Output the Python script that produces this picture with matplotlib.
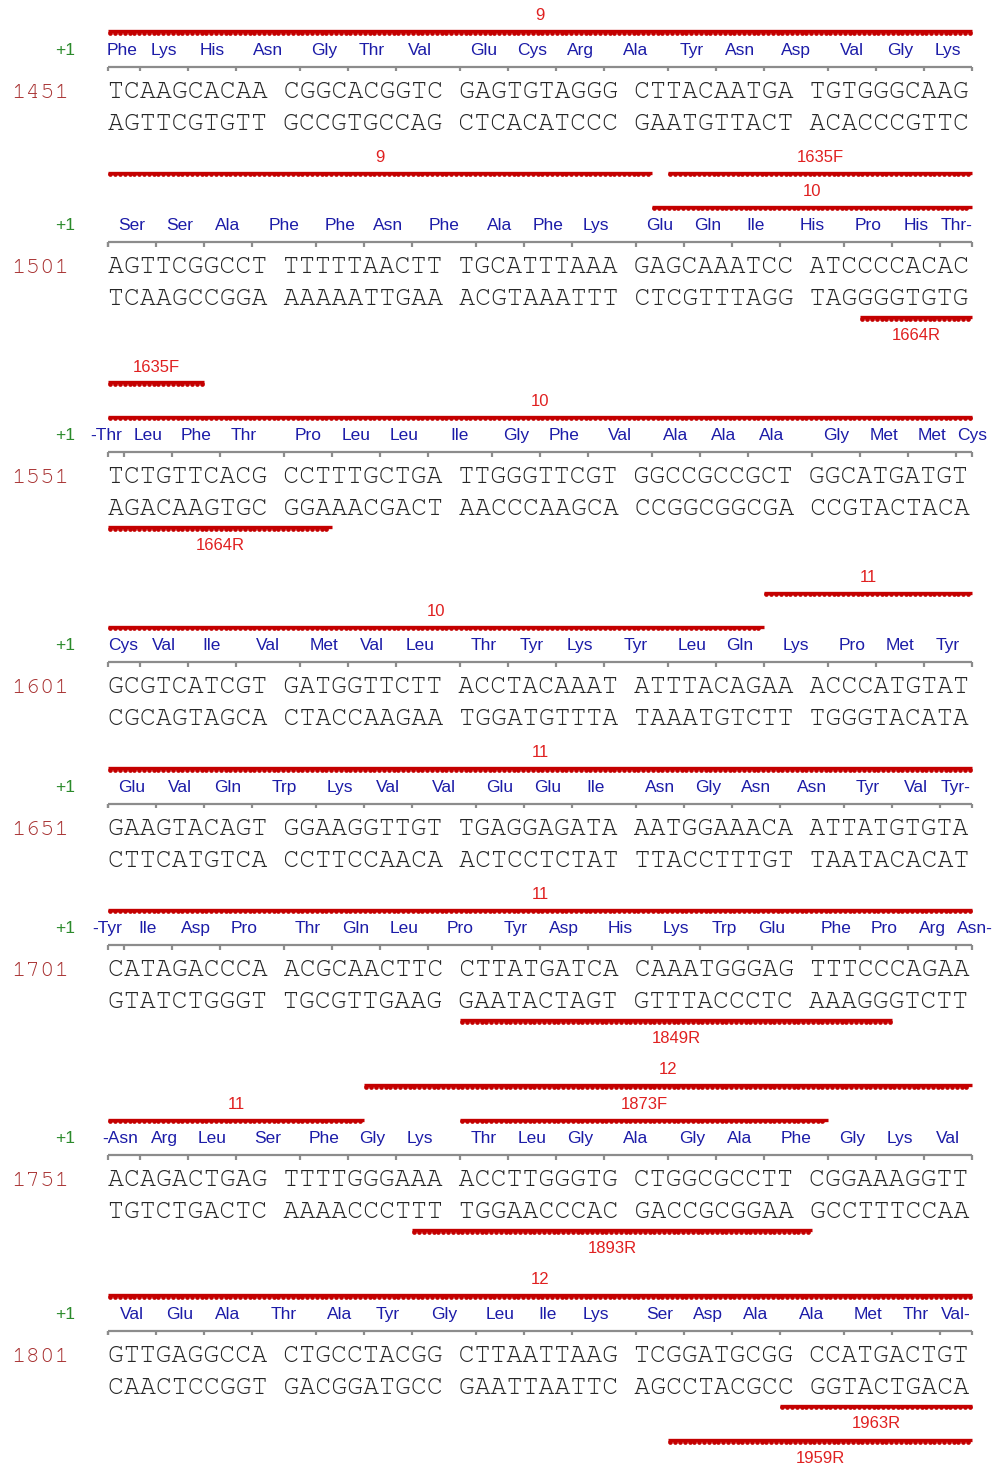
import matplotlib
matplotlib.use("Agg")
import matplotlib.pyplot as plt
from matplotlib import font_manager

# ---- sequence data (as printed) ----
row_starts = [1451, 1501, 1551, 1601, 1651, 1701, 1751, 1801]
top_strand = [
    "TCAAGCACAACGGCACGGTCGAGTGTAGGGCTTACAATGATGTGGGCAAG",
    "AGTTCGGCCTTTTTTAACTTTGCATTTAAAGAGCAAATCCATCCCCACAC",
    "TCTGTTCACGCCTTTGCTGATTGGGTTCGTGGCCGCCGCTGGCATGATGT",
    "GCGTCATCGTGATGGTTCTTACCTACAAATATTTACAGAAACCCATGTAT",
    "GAAGTACAGTGGAAGGTTGTTGAGGAGATAAATGGAAACAATTATGTGTA",
    "CATAGACCCAACGCAACTTCCTTATGATCACAAATGGGAGTTTCCCAGAA",
    "ACAGACTGAGTTTTGGGAAAACCTTGGGTGCTGGCGCCTTCGGAAAGGTT",
    "GTTGAGGCCACTGCCTACGGCTTAATTAAGTCGGATGCGGCCATGACTGT",
]
bottom_strand = [
    "AGTTCGTGTTGCCGTGCCAGCTCACATCCCGAATGTTACTACACCCGTTC",
    "TCAAGCCGGAAAAAATTGAAACGTAAATTTCTCGTTTAGGTAGGGGTGTG",
    "AGACAAGTGCGGAAACGACTAACCCAAGCACCGGCGGCGACCGTACTACA",
    "CGCAGTAGCACTACCAAGAATGGATGTTTATAAATGTCTTTGGGTACATA",
    "CTTCATGTCACCTTCCAACAACTCCTCTATTTACCTTTGTTAATACACAT",
    "GTATCTGGGTTGCGTTGAAGGAATACTAGTGTTTACCCTCAAAGGGTCTT",
    "TGTCTGACTCAAAACCCTTTTGGAACCCACGACCGCGGAAGCCTTTCCAA",
    "CAACTCCGGTGACGGATGCCGAATTAATTCAGCCTACGCCGGTACTGACA",
]
frame_start = 1450  # first base of a codon in reading frame +1
aa_rows = [
    "Phe Lys His Asn Gly Thr Val Glu Cys Arg Ala Tyr Asn Asp Val Gly Lys",
    "Ser Ser Ala Phe Phe Asn Phe Ala Phe Lys Glu Gln Ile His Pro His Thr-",
    "-Thr Leu Phe Thr Pro Leu Leu Ile Gly Phe Val Ala Ala Ala Gly Met Met Cys",
    "Cys Val Ile Val Met Val Leu Thr Tyr Lys Tyr Leu Gln Lys Pro Met Tyr",
    "Glu Val Gln Trp Lys Val Val Glu Glu Ile Asn Gly Asn Asn Tyr Val Tyr-",
    "-Tyr Ile Asp Pro Thr Gln Leu Pro Tyr Asp His Lys Trp Glu Phe Pro Arg Asn-",
    "-Asn Arg Leu Ser Phe Gly Lys Thr Leu Gly Ala Gly Ala Phe Gly Lys Val",
    "Val Glu Ala Thr Ala Tyr Gly Leu Ile Lys Ser Asp Ala Ala Met Thr Val-",
]

# ---- features: exons (9-12) and primers ----
feat_names = ["9", "10", "11", "12", "1635F", "1664R", "1849R", "1873F", "1893R", "1959R", "1963R"]
feat_start = [1451, 1532, 1639, 1766, 1533, 1544, 1721, 1771, 1769, 1833, 1840]
feat_end = [1531, 1638, 1765, 1850, 1556, 1563, 1745, 1791, 1790, 1850, 1850]
feat_side = ["top", "top", "top", "top", "top", "bottom", "bottom", "top", "bottom", "bottom", "bottom"]
# order in which features get a track (first = nearest the sequence)
track_order = ["10", "11", "1873F", "12", "9", "1635F", "1664R", "1849R", "1893R", "1963R", "1959R"]

# ---- look ----
X0 = 108
CW = 16
ROW_LEN = 50
LANE = 34.3
C_SEQ = "#262626"
C_AA = "#1c1ca8"
C_NUM = "#a83232"
C_FRAME = "#2b8a2b"
C_FEAT = "#c40000"
C_LAB = "#e02020"
C_RULER = "#8c8c8c"

names = {f.name for f in font_manager.fontManager.ttflist}


def pick(cands):
    for c in cands:
        if c in names:
            return c
    return "DejaVu Sans"


NARROW = pick(["Liberation Sans Narrow", "Arial Narrow", "Nimbus Sans Narrow", "Liberation Sans"])
MONO = pick(["Courier New", "Nimbus Mono PS", "FreeMono", "Liberation Mono"])


def col_left(i):
    # i = base index within row (0..49)
    return X0 + (i + i // 10) * CW


def col_right(i):
    return col_left(i) + CW


def wavy(ax, xa, xb, y):
    ax.plot([xa, xb], [y, y], color=C_FEAT, lw=2.4, solid_capstyle="butt", zorder=3)
    n = int((xb - xa) / 4.8)
    xs = [xa + 2.4 + 4.8 * k for k in range(n)]
    ax.plot(xs, [y + 1.6] * len(xs), "o", color=C_FEAT, ms=3.4, mew=0, zorder=3)


# segments of each feature per row, with track assignment
row_segments = []
lane_counts = []
for r, rs in enumerate(row_starts):
    re_ = rs + ROW_LEN - 1
    segs = []
    for name in track_order:
        k = feat_names.index(name)
        a, b = max(feat_start[k], rs), min(feat_end[k], re_)
        if a > b:
            continue
        ia, ib = a - rs, b - rs
        side = feat_side[k]
        lane = 0
        while True:
            clash = False
            for s in segs:
                if s[4] == side and s[5] == lane and ia <= s[2] + 1 and s[1] <= ib + 1:
                    clash = True
            if not clash:
                break
            lane += 1
        segs.append((name, ia, ib, k, side, lane))
    row_segments.append(segs)
    top_n = max([s[5] + 1 for s in segs if s[4] == "top"], default=0)
    bot_n = max([s[5] + 1 for s in segs if s[4] == "bottom"], default=0)
    lane_counts.append((top_n, bot_n))

fig = plt.figure(figsize=(9.92, 14.65), dpi=100)
ax = fig.add_axes([0, 0, 1, 1])
ax.set_xlim(0, 992)
ax.set_ylim(1465, 0)
ax.axis("off")

base = 20.3 + LANE * lane_counts[0][0]
for r, rs in enumerate(row_starts):
    if r > 0:
        base += 107.1 + LANE * (lane_counts[r - 1][1] + lane_counts[r][0])
    re_ = rs + ROW_LEN - 1

    # frame label and amino acids
    ax.text(75, base, "+1", color=C_FRAME, fontsize=12.5, family=NARROW, ha="right", va="baseline")
    offset = (rs - frame_start) % 3
    codons = list(range(rs - offset, re_ + 1, 3))
    labels = aa_rows[r].split()
    for c, lab in zip(codons, labels):
        ia, ib = max(c, rs) - rs, min(c + 2, re_) - rs
        if c < rs:
            xc, ha = col_right(ib) - 2, "right"
        elif c + 2 > re_:
            xc, ha = col_left(ia) + 1, "left"
        else:
            xc, ha = (col_left(ia) + col_right(ib)) / 2, "center"
        ax.text(xc, base, lab, color=C_AA, fontsize=12.5, family=NARROW, ha=ha, va="baseline")

    # ruler with codon ticks
    yr = base + 12
    xr1 = col_right(ROW_LEN - 1)
    ax.plot([X0, xr1], [yr, yr], color=C_RULER, lw=1.6, solid_capstyle="butt", zorder=2)
    ticks = [X0, xr1] + [col_left(c - rs) for c in codons if c >= rs]
    for xt in ticks:
        ax.plot([xt, xt], [yr, yr + 4.5], color=C_RULER, lw=1.6, solid_capstyle="butt", zorder=2)

    # strands
    top = " ".join(top_strand[r][i:i + 10] for i in range(0, ROW_LEN, 10))
    bot = " ".join(bottom_strand[r][i:i + 10] for i in range(0, ROW_LEN, 10))
    ax.text(X0, base + 43, top, color=C_SEQ, fontsize=19.2, family=MONO, ha="left", va="baseline")
    ax.text(X0, base + 75, bot, color=C_SEQ, fontsize=19.2, family=MONO, ha="left", va="baseline")
    ax.text(11, base + 43, str(rs), color=C_NUM, fontsize=17.4, family=MONO, ha="left", va="baseline")

    # feature tracks
    for name, ia, ib, k, side, lane in row_segments[r]:
        xa = col_left(ia)
        xb = col_left(ib + 1) if ib + 1 < ROW_LEN else col_right(ib)
        if side == "top":
            y = base - 23.5 - LANE * lane
            ty = y - 11
        else:
            y = base + 87 + LANE * lane
            ty = y + 22.5
        wavy(ax, xa, xb, y)
        ax.text((xa + xb) / 2, ty, name, color=C_LAB, fontsize=12, family=NARROW, ha="center", va="baseline")

fig.savefig("out.png", dpi=100, facecolor="white")
